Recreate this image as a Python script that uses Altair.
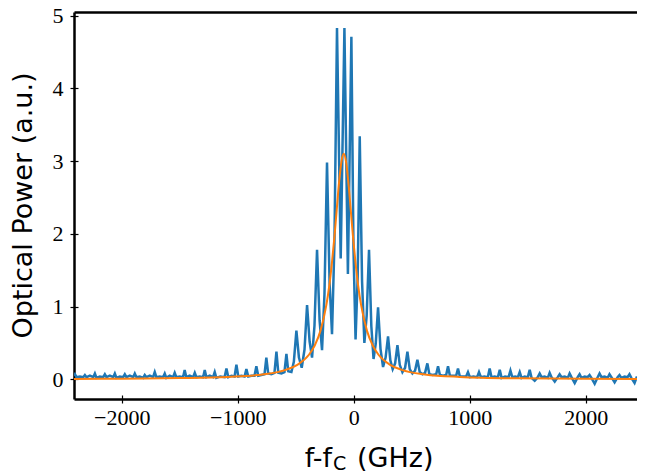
import altair as alt
import pandas as pd

# Measured spectrum (blue): frequency offset (GHz) and optical power (a.u.)
spec_f = [-2411, -2403, -2389, -2360, -2331, -2317, -2303, -2274, -2245, -2231,
          -2217, -2188, -2159, -2145, -2131, -2102, -2073, -2059, -2045, -2016,
          -1987, -1973, -1959, -1930, -1901, -1887, -1873, -1844, -1815, -1801,
          -1787, -1758, -1729, -1715, -1701, -1672, -1643, -1629, -1615, -1586,
          -1557, -1543, -1529, -1500, -1471, -1457, -1443, -1414, -1384, -1370,
          -1356, -1327, -1298, -1284, -1270, -1241, -1212, -1198, -1184, -1150,
          -1113, -1097, -1081, -1054, -1027, -1011, -995, -968, -941, -925,
          -909, -882, -855, -839, -823, -796, -769, -753, -737, -710,
          -683, -666, -650, -623, -597, -580, -564, -537, -516, -494,
          -472, -448, -424, -402, -380, -359, -338, -316, -294, -273,
          -252, -230, -208, -187, -166, -144, -112, -80, -50, -20,
          -2, 16, 34, 52, 72, 92, 112, 132, 152, 171,
          190, 210, 231, 253, 275, 296, 316, 336, 357, 377,
          397, 420, 443, 463, 483, 506, 529, 549, 569, 592,
          615, 635, 652, 681, 711, 727, 743, 770, 797, 813,
          829, 856, 883, 899, 915, 942, 969, 985, 1001, 1032,
          1064, 1080, 1096, 1126, 1156, 1172, 1188, 1215, 1243, 1259,
          1275, 1305, 1335, 1351, 1367, 1391, 1415, 1431, 1447, 1474,
          1501, 1517, 1533, 1560, 1587, 1603, 1619, 1646, 1673, 1689,
          1705, 1733, 1759, 1775, 1791, 1819, 1845, 1861, 1877, 1905,
          1931, 1947, 1963, 1991, 2017, 2033, 2049, 2077, 2103, 2119,
          2135, 2163, 2189, 2205, 2221, 2249, 2275, 2291, 2307, 2335,
          2361, 2377, 2393, 2421, 2442]
spec_p = [0.05, 0.07, 0.03, 0.04, 0.03, 0.06, 0.03, 0.05, 0.03, 0.08,
          0.02, 0.04, 0.03, 0.07, 0.03, 0.05, 0.03, 0.08, 0.02, 0.04,
          0.03, 0.07, 0.03, 0.05, 0.03, 0.08, 0.03, 0.04, 0.02, 0.06,
          0.03, 0.05, 0.03, 0.10, 0.03, 0.04, 0.03, 0.08, 0.02, 0.05,
          0.03, 0.09, 0.03, 0.04, 0.03, 0.13, 0.03, 0.05, 0.03, 0.09,
          0.03, 0.04, 0.03, 0.13, 0.03, 0.05, 0.03, 0.10, 0.02, 0.04,
          0.03, 0.15, 0.03, 0.05, 0.04, 0.20, 0.04, 0.05, 0.04, 0.14,
          0.04, 0.05, 0.05, 0.18, 0.05, 0.06, 0.07, 0.30, 0.08, 0.07,
          0.09, 0.38, 0.09, 0.08, 0.10, 0.35, 0.11, 0.10, 0.24, 0.67,
          0.30, 0.16, 0.41, 1.02, 0.52, 0.30, 0.74, 1.78, 0.81, 0.40,
          1.17, 2.98, 1.33, 0.62, 1.88, 4.83, 1.66, 4.83, 1.45, 4.71,
          1.80, 0.55, 1.39, 3.34, 1.35, 0.50, 0.88, 1.78, 0.73, 0.28,
          0.49, 0.99, 0.42, 0.17, 0.30, 0.59, 0.26, 0.14, 0.22, 0.47,
          0.20, 0.10, 0.16, 0.38, 0.14, 0.08, 0.12, 0.27, 0.10, 0.07,
          0.09, 0.22, 0.07, 0.06, 0.07, 0.18, 0.06, 0.05, 0.06, 0.18,
          0.05, 0.05, 0.05, 0.15, 0.04, 0.04, 0.04, 0.10, 0.03, 0.04,
          0.03, 0.10, 0.03, 0.04, 0.03, 0.15, 0.03, 0.04, 0.03, 0.13,
          0.02, 0.04, 0.03, 0.12, 0.03, 0.04, 0.03, 0.10, 0.02, 0.04,
          0.03, 0.13, 0.02, -0.02, 0.03, 0.08, 0.03, 0.04, 0.02, 0.09,
          0.03, -0.03, 0.03, 0.07, 0.03, 0.04, 0.02, 0.08, 0.03, -0.05,
          0.03, 0.07, 0.02, 0.04, 0.03, 0.06, 0.02, -0.06, 0.03, 0.08,
          0.03, 0.04, 0.02, 0.07, 0.03, -0.04, 0.03, 0.06, 0.02, 0.04,
          0.03, 0.07, 0.02, -0.05, 0.04]

# Fitted envelope (orange)
fit_f = [-2411, -2000, -1500, -1086, -786, -586, -486, -386, -336, -286,
         -236, -211, -186, -166, -146, -126, -106, -86, -66, -46,
         -26, -6, 14, 39, 64, 114, 164, 214, 314, 414,
         614, 914, 1414, 2000, 2442]
fit_p = [0.006, 0.009, 0.017, 0.034, 0.068, 0.131, 0.20, 0.338, 0.465, 0.67,
         1.02, 1.28, 1.63, 1.96, 2.34, 2.71, 2.99, 3.10, 2.99, 2.71,
         2.34, 1.96, 1.63, 1.28, 1.02, 0.67, 0.465, 0.338, 0.20, 0.131,
         0.068, 0.034, 0.015, 0.009, 0.006]

x_ticks = [-2000, -1000, 0, 1000, 2000]
y_ticks = [0, 1, 2, 3, 4, 5]

spec = pd.DataFrame({"f": spec_f, "p": spec_p})
fit = pd.DataFrame({"f": fit_f, "p": fit_p})

xs = alt.Scale(domain=[-2411, 2442], nice=False, zero=False)
ys = alt.Scale(domain=[-0.27, 5.05], nice=False, zero=False)

SERIF = "Liberation Serif"
SANS = "DejaVu Sans"

blue = alt.Chart(spec).mark_line(color="#1f77b4", strokeWidth=2.5, clip=True).encode(
    x=alt.X("f:Q", scale=xs, axis=alt.Axis(
        orient="bottom", values=x_ticks, format="d", title=None, grid=False,
        domainColor="black", domainWidth=2.5, tickColor="black", tickSize=4,
        tickWidth=1.2, labelFont=SERIF, labelFontSize=22, labelPadding=4,
        labelColor="black")),
    y=alt.Y("p:Q", scale=ys, axis=alt.Axis(
        orient="left", values=y_ticks, format="d", grid=False,
        title="Optical Power (a.u.)", titleFont=SANS, titleFontSize=27,
        titleFontWeight="normal", titleColor="black", titleAngle=270,
        titleX=-43, titleY=193, titleBaseline="alphabetic", titleAlign="center",
        domainColor="black", domainWidth=2.5, tickColor="black", tickSize=4,
        tickWidth=1.2, labelFont=SERIF, labelFontSize=22, labelPadding=7,
        labelColor="black")),
)

orange = alt.Chart(fit).mark_line(color="#ff7f0e", strokeWidth=2, clip=True,
                                  interpolate="monotone").encode(
    x=alt.X("f:Q", scale=xs, axis=alt.Axis(
        orient="bottom", offset=-4, values=x_ticks, labels=False, domain=False,
        grid=False, title=None, tickColor="black", tickSize=4, tickWidth=1.2)),
    y=alt.Y("p:Q", scale=ys, axis=alt.Axis(
        orient="left", offset=-4, values=y_ticks, labels=False, domain=False,
        grid=False, title=None, tickColor="black", tickSize=4, tickWidth=1.2)),
)

top_spine = alt.Chart(fit).mark_line(opacity=0).encode(
    x=alt.X("f:Q", scale=xs, axis=alt.Axis(
        orient="top", labels=False, ticks=False, grid=False, title=None,
        domainColor="black", domainWidth=2.5)),
    y=alt.Y("p:Q", scale=ys, axis=None),
)

t1 = alt.Chart(pd.DataFrame({"t": ["f-f"]})).mark_text(
    font=SANS, fontSize=27, color="black", align="right", baseline="alphabetic"
).encode(text="t:N", x=alt.value(258), y=alt.value(455))
t2 = alt.Chart(pd.DataFrame({"t": ["C"]})).mark_text(
    font=SANS, fontSize=19, color="black", align="left", baseline="alphabetic"
).encode(text="t:N", x=alt.value(259), y=alt.value(458))
t3 = alt.Chart(pd.DataFrame({"t": ["(GHz)"]})).mark_text(
    font=SANS, fontSize=27, color="black", align="left", baseline="alphabetic"
).encode(text="t:N", x=alt.value(283), y=alt.value(455))

chart = alt.layer(blue, orange, top_spine, t1, t2, t3).resolve_axis(
    x="independent", y="independent"
).properties(
    width=563, height=387,
    padding={"left": 66, "top": 4, "right": 0, "bottom": 74},
    autosize=alt.AutoSizeParams(type="none"),
).configure_view(stroke=None)

chart.save("out.html", embed_options={"renderer": "svg", "actions": False})
